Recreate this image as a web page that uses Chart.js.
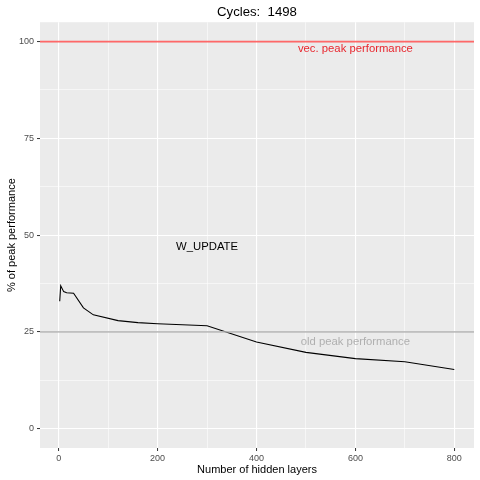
<!DOCTYPE html>
<html>
<head>
<meta charset="utf-8">
<script src="https://cdn.jsdelivr.net/npm/chart.js@4"></script>
<style>
  html, body { margin: 0; padding: 0; background: #ffffff; }
  #wrap { width: 480px; height: 480px; }
</style>
</head>
<body>
<div id="wrap"><canvas id="chart"></canvas></div>
<script>
// values
const hiddenLayers = [2, 4, 10, 16, 30, 50, 70, 120, 160, 200, 300, 400, 500, 600, 700, 800];
const percentPeak = [32.9, 36.9, 35.4, 35.1, 35.0, 31.2, 29.4, 27.9, 27.4, 27.1, 26.6, 22.4, 19.7, 18.1, 17.3, 15.3];

const xTicks = [0, 100, 200, 300, 400, 500, 600, 700, 800];
const yTicks = [0, 12.5, 25, 37.5, 50, 62.5, 75, 87.5, 100];
const xLabelTicks = [0, 200, 400, 600, 800];
const yLabelTicks = [0, 25, 50, 75, 100];

const refLevels = [100, 25];
const refNames = ['vec. peak performance', 'old peak performance'];
const refLabelX = [600, 600];
const refLabelY = [98, 22.5];

const seriesName = 'W_UPDATE';
const seriesLabelX = 300;
const seriesLabelY = 47;

const FONT = '"Liberation Sans", Arial, Helvetica, sans-serif';
const refLineColors = ['rgba(255, 40, 40, 0.7)', 'rgba(175, 175, 175, 0.8)'];
const refTextColors = ['rgba(232, 20, 28, 0.92)', 'rgba(160, 160, 160, 0.8)'];

// ggplot-like expansion of 5% around the data range
const xMin = 2 - 0.05 * (800 - 2);
const xMax = 800 + 0.05 * (800 - 2);
const yMin = 0 - 0.05 * 100;
const yMax = 100 + 0.05 * 100;

const isMajor = (list, v) => list.includes(v);

const panelPlugin = {
  id: 'panel',
  beforeDraw(chart) {
    const { ctx, chartArea } = chart;
    ctx.save();
    ctx.fillStyle = '#ebebeb';
    ctx.fillRect(chartArea.left, chartArea.top, chartArea.right - chartArea.left, chartArea.bottom - chartArea.top);
    ctx.restore();
  }
};

const referencePlugin = {
  id: 'reference',
  afterDatasetsDraw(chart) {
    const { ctx, chartArea, scales } = chart;
    ctx.save();
    refLevels.forEach((level, i) => {
      const y = scales.y.getPixelForValue(level);
      ctx.strokeStyle = refLineColors[i];
      ctx.lineWidth = 1.7;
      ctx.beginPath();
      ctx.moveTo(chartArea.left, y);
      ctx.lineTo(chartArea.right, y);
      ctx.stroke();

      ctx.fillStyle = refTextColors[i];
      ctx.font = '11.3px ' + FONT;
      ctx.textAlign = 'center';
      ctx.textBaseline = 'middle';
      ctx.fillText(refNames[i], scales.x.getPixelForValue(refLabelX[i]), scales.y.getPixelForValue(refLabelY[i]));
    });

    ctx.fillStyle = '#000000';
    ctx.font = '11.3px ' + FONT;
    ctx.textAlign = 'center';
    ctx.textBaseline = 'middle';
    ctx.fillText(seriesName, scales.x.getPixelForValue(seriesLabelX), scales.y.getPixelForValue(seriesLabelY));
    ctx.restore();
  }
};

const gridFor = (labels) => ({
  color: '#ffffff',
  lineWidth: (c) => isMajor(labels, c.tick.value) ? 1.1 : 0.55,
  drawTicks: true,
  tickLength: 3,
  tickWidth: 1,
  tickColor: (c) => isMajor(labels, c.tick.value) ? '#333333' : 'rgba(0,0,0,0)'
});

new Chart(document.getElementById('chart'), {
  type: 'line',
  data: {
    datasets: [{
      label: seriesName,
      data: hiddenLayers.map((x, i) => ({ x, y: percentPeak[i] })),
      borderColor: '#000000',
      borderWidth: 1.1,
      pointRadius: 0,
      tension: 0,
      fill: false
    }]
  },
  options: {
    responsive: true,
    maintainAspectRatio: false,
    animation: false,
    layout: { padding: { left: 0, right: 6, top: 0, bottom: 0 } },
    plugins: {
      legend: { display: false },
      tooltip: { enabled: false },
      title: {
        display: true,
        fullSize: false,
        text: 'Cycles:  1498',
        color: '#000000',
        font: { family: FONT, size: 13.2, weight: 'normal' },
        padding: { top: 4, bottom: 2.4 }
      }
    },
    scales: {
      x: {
        type: 'linear',
        min: xMin,
        max: xMax,
        afterBuildTicks: (scale) => { scale.ticks = xTicks.map(v => ({ value: v })); },
        afterFit: (scale) => { scale.height = 32; },
        border: { display: false },
        grid: gridFor(xLabelTicks),
        ticks: {
          autoSkip: false,
          maxRotation: 0,
          padding: 2,
          color: '#4d4d4d',
          font: { family: FONT, size: 9 },
          callback: (v) => isMajor(xLabelTicks, v) ? String(v) : ''
        },
        title: {
          display: true,
          text: 'Number of hidden layers',
          color: '#000000',
          font: { family: FONT, size: 11 },
          padding: { top: 0, bottom: 3.4 }
        }
      },
      y: {
        type: 'linear',
        min: yMin,
        max: yMax,
        afterBuildTicks: (scale) => { scale.ticks = yTicks.map(v => ({ value: v })); },
        afterFit: (scale) => { scale.width = 40; },
        border: { display: false },
        grid: gridFor(yLabelTicks),
        ticks: {
          autoSkip: false,
          padding: 3,
          color: '#4d4d4d',
          font: { family: FONT, size: 9 },
          callback: (v) => isMajor(yLabelTicks, v) ? String(v) : ''
        },
        title: {
          display: true,
          text: '% of peak performance',
          color: '#000000',
          font: { family: FONT, size: 11 },
          padding: { top: 5.4, bottom: 0 }
        }
      }
    }
  },
  plugins: [panelPlugin, referencePlugin]
});
</script>
</body>
</html>
